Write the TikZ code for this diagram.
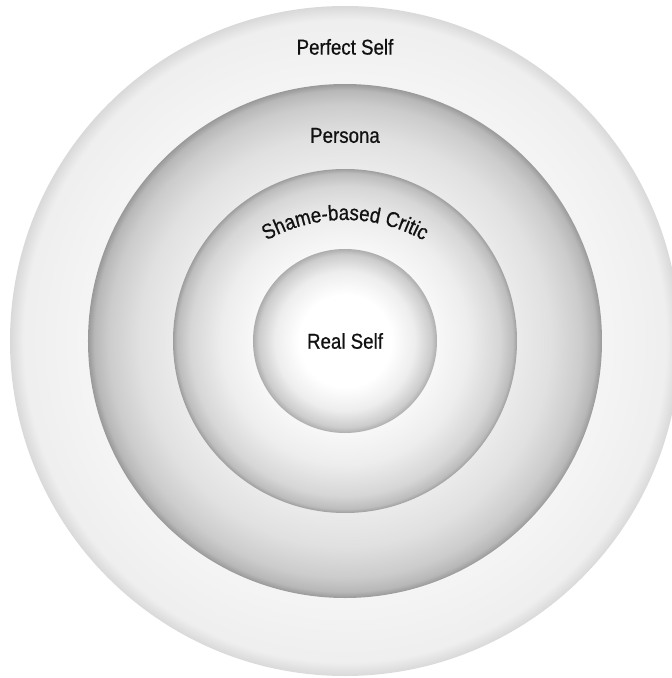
\documentclass[tikz,border=0pt]{standalone}
\usepackage{fontspec}
\usepackage{xcolor}
\usepackage{tikz}
\usetikzlibrary{positioning,decorations.text}
\newfontfamily\labelfont[FakeStretch=0.87,FakeBold=0.7]{Liberation Sans}
\definecolor{inkblack}{HTML}{111111}
\definecolor{g97}{gray}{0.97}
\definecolor{g96}{gray}{0.96}
\definecolor{g94}{gray}{0.935}
\definecolor{g93}{gray}{0.93}
\definecolor{g92}{gray}{0.92}
\definecolor{g88}{gray}{0.88}
\definecolor{g85}{gray}{0.85}
\definecolor{g84}{gray}{0.84}
\definecolor{g80}{gray}{0.80}
\definecolor{g74}{gray}{0.74}
\definecolor{g72}{gray}{0.72}
\definecolor{g68}{gray}{0.68}
\definecolor{g62}{gray}{0.62}
\definecolor{g60}{gray}{0.60}
% 25bp = rim of the disc
\pgfdeclareradialshading{perfectshade}{\pgfpointorigin}{%
  color(0bp)=(white); color(19bp)=(g96); color(24bp)=(g94);
  color(25bp)=(g85); color(50bp)=(g85)}
\pgfdeclareradialshading{personashade}{\pgfpointorigin}{%
  color(0bp)=(white); color(16.7bp)=(g92); color(20bp)=(g88);
  color(23bp)=(g80); color(24.4bp)=(g72); color(25bp)=(g60);
  color(50bp)=(g60)}
\pgfdeclareradialshading{criticshade}{\pgfpointorigin}{%
  color(0bp)=(white); color(13.4bp)=(g97); color(18bp)=(g93);
  color(22.5bp)=(g84); color(24.4bp)=(g74); color(25bp)=(g62);
  color(50bp)=(g62)}
\pgfdeclareradialshading{realshade}{\pgfpointorigin}{%
  color(0bp)=(white); color(12.5bp)=(white); color(19bp)=(g93);
  color(23.5bp)=(g80); color(25bp)=(g68); color(50bp)=(g68)}
\tikzset{
  ring/.style={circle, shading=#1, draw=none, inner sep=0pt, outer sep=0pt},
  lbl/.style={font=\labelfont\fontsize{21.5}{24}\selectfont, text=inkblack,
              inner sep=0pt, outer sep=0pt},
}

\begin{document}
\begin{tikzpicture}[x=1pt, y=1pt]
  \useasboundingbox (-345,-337) rectangle (327,341);
  \node[ring=perfectshade, minimum size=670pt] (perfect) at (0,0) {};
  \node[ring=personashade, minimum size=514pt] (persona) at (0,0) {};
  \node[ring=criticshade, minimum size=344pt] (critic) at (0,0) {};
  \node[ring=realshade, minimum size=184pt] (real) at (0,0) {};

  \node[lbl, below=33pt of perfect.north] (perfectlbl) {Perfect Self};
  \node[lbl, below=44pt of persona.north] (personalbl) {Persona};
  \node[lbl] (reallbl) at (real) {Real Self};

  \path[decorate, decoration={text along path, text align=center,
        text={|\labelfont\fontsize{21.5}{24}\selectfont\color{inkblack}|Shame-based Critic}}]
    ([shift={(0,-39)}]150:160) arc[start angle=150, end angle=30, radius=160];
\end{tikzpicture}
\end{document}
